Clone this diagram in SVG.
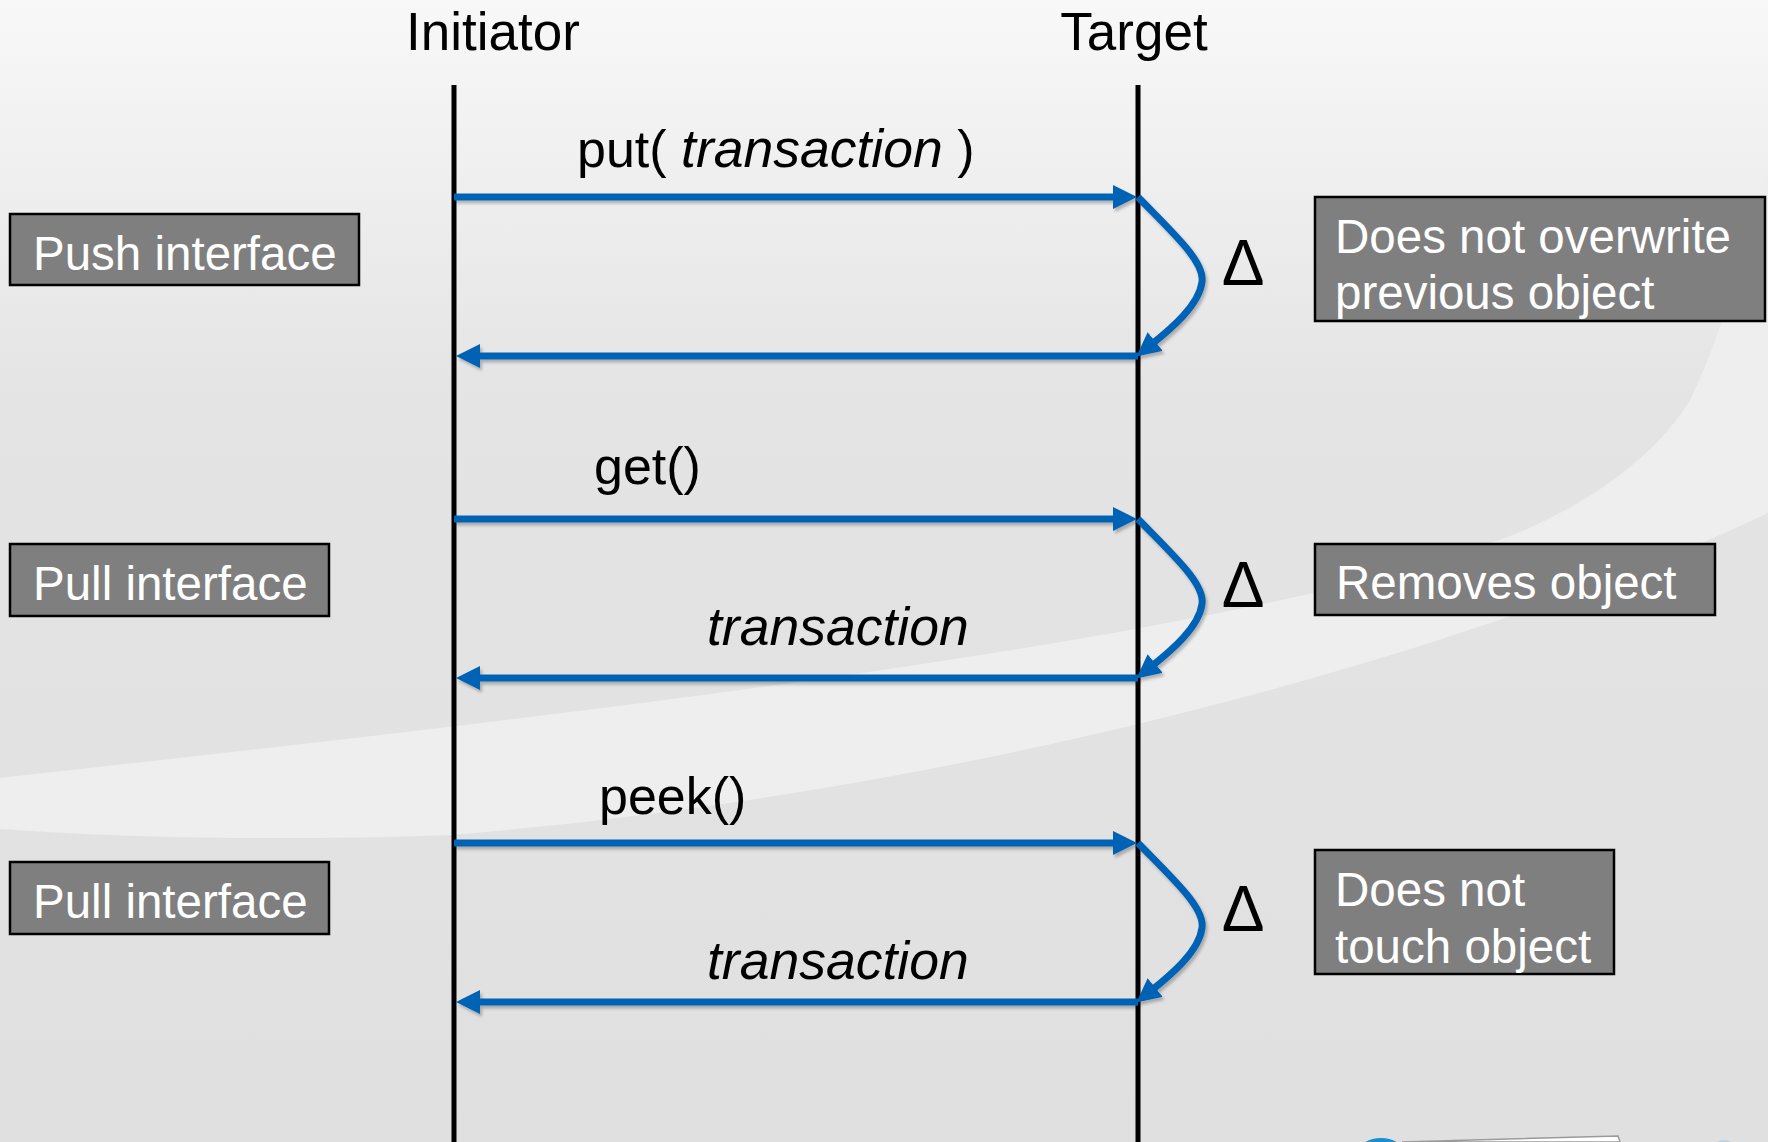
<svg xmlns="http://www.w3.org/2000/svg" width="1768" height="1142" viewBox="0 0 1768 1142">
  <defs>
    <linearGradient id="bg" x1="0" y1="0" x2="0" y2="1">
      <stop offset="0" stop-color="#f8f8f8"/>
      <stop offset="0.12" stop-color="#f1f1f1"/>
      <stop offset="0.35" stop-color="#e4e4e4"/>
      <stop offset="1" stop-color="#e0e0e0"/>
    </linearGradient>
    <marker id="ah" markerUnits="userSpaceOnUse" markerWidth="26" markerHeight="26" viewBox="0 0 26 26" refX="4" refY="12" orient="auto">
      <path d="M0,0 L24,12 L0,24 z" fill="#0562b4"/>
    </marker>
    <filter id="sh" x="-5%" y="-50%" width="110%" height="200%">
      <feDropShadow dx="2" dy="3" stdDeviation="1.5" flood-color="#000" flood-opacity="0.25"/>
    </filter>
    <style>
      .t{font-family:"Liberation Sans",Arial,sans-serif;fill:#000}
      .lbl{font-family:"Liberation Sans",Arial,sans-serif;font-size:52px;fill:#000}
      .it{font-style:italic;font-size:53.5px}
      .box rect{fill:#7f7f7f;stroke:#000;stroke-width:2.5}
      .box text{font-family:"Liberation Sans",Arial,sans-serif;font-size:47.5px;fill:#fff}
      .life{stroke:#000;stroke-width:5;fill:none}
      .msg{stroke:#0562b4;stroke-width:7;fill:none;marker-end:url(#ah)}
      .delta{font-family:"Liberation Sans",Arial,sans-serif;font-size:64px;fill:#000;text-anchor:middle}
    </style>
  </defs>

  <!-- background -->
  <rect x="0" y="0" width="1768" height="1142" fill="url(#bg)"/>
  <path d="M0,778 C500,722 1250,642 1520,532 C1600,498 1660,450 1690,400 C1720,340 1745,250 1768,170 L1768,513 C1500,640 1000,790 450,835 C250,842 100,836 0,829 Z" fill="#eeeeee"/>

  <!-- bottom fragment -->
  <ellipse cx="1381" cy="1152" rx="22" ry="14" fill="#1a8ed0"/>
  <path d="M1402,1142 L1618,1136 L1620,1142 Z" fill="#ffffff" stroke="#9a9a9a" stroke-width="1.5"/>
  <ellipse cx="1724" cy="1143" rx="7" ry="3" fill="#b9d3e6"/>

  <!-- titles -->
  <g id="initiator">
    <text class="t" x="493" y="50" font-size="53" text-anchor="middle">Initiator</text>
  </g>
  <g id="target">
    <text class="t" x="1134" y="50" font-size="53" text-anchor="middle">Target</text>
  </g>

  <!-- connectors -->
  <g id="connectors">
    <line class="life" x1="454" y1="85" x2="454" y2="1142"/>
    <line class="life" x1="1138" y1="85" x2="1138" y2="1142"/>

    <g filter="url(#sh)">
      <!-- put -->
      <line class="msg" x1="454" y1="197" x2="1117" y2="197"/>
      <path class="msg" d="M1138,197 C1175,235 1205,262 1202,282 C1199,305 1172,328 1152,344"/>
      <line class="msg" x1="1138" y1="356" x2="476" y2="356"/>
      <!-- get -->
      <line class="msg" x1="454" y1="519" x2="1117" y2="519"/>
      <path class="msg" d="M1138,519 C1175,557 1205,584 1202,604 C1199,627 1172,650 1152,666"/>
      <line class="msg" x1="1138" y1="678" x2="476" y2="678"/>
      <!-- peek -->
      <line class="msg" x1="454" y1="843" x2="1117" y2="843"/>
      <path class="msg" d="M1138,843 C1175,881 1205,908 1202,928 C1199,951 1172,974 1152,990"/>
      <line class="msg" x1="1138" y1="1002" x2="476" y2="1002"/>
    </g>

    <text class="lbl" x="577" y="167">put( <tspan class="it">transaction</tspan> )</text>
    <text class="lbl" x="594" y="484">get()</text>
    <text class="lbl it" x="707" y="645">transaction</text>
    <text class="lbl" x="599" y="814">peek()</text>
    <text class="lbl it" x="707" y="979">transaction</text>

    <text class="delta" x="1243" y="285">Δ</text>
    <text class="delta" x="1243" y="607">Δ</text>
    <text class="delta" x="1243" y="931">Δ</text>
  </g>

  <!-- left boxes -->
  <g id="push-interface" class="box">
    <rect x="10" y="214" width="349" height="71"/>
    <text x="33" y="270">Push interface</text>
  </g>
  <g id="pull-interface-1" class="box">
    <rect x="10" y="544" width="319" height="72"/>
    <text x="33" y="600">Pull interface</text>
  </g>
  <g id="pull-interface-2" class="box">
    <rect x="10" y="862" width="319" height="72"/>
    <text x="33" y="918">Pull interface</text>
  </g>

  <!-- right boxes -->
  <g id="no-overwrite" class="box">
    <rect x="1315" y="197" width="450" height="124"/>
    <text x="1335" y="253">Does not overwrite</text>
    <text x="1335" y="309">previous object</text>
  </g>
  <g id="removes" class="box">
    <rect x="1315" y="544" width="400" height="71"/>
    <text x="1336" y="599">Removes object</text>
  </g>
  <g id="no-touch" class="box">
    <rect x="1315" y="850" width="299" height="124"/>
    <text x="1335" y="906">Does not</text>
    <text x="1335" y="963">touch object</text>
  </g>
</svg>
